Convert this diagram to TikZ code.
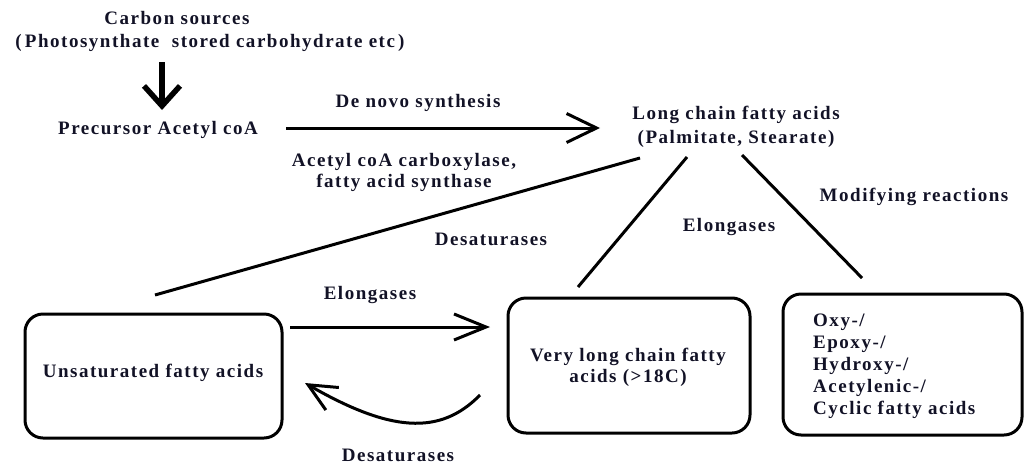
\documentclass[tikz,border=0pt]{standalone}
\usepackage{fontspec}
\newfontfamily\lblfont{Liberation Serif}[LetterSpace=8]
\usetikzlibrary{arrows.meta}
\definecolor{ink}{RGB}{18,18,38}
\begin{document}
\begin{tikzpicture}[x=1pt,y=-1pt,
  lbl/.style={font=\lblfont\bfseries\fontsize{19}{22}\selectfont, text=ink, inner sep=0pt},
  conn/.style={line width=3pt, draw=black},
  roundbox/.style={draw=black, line width=3pt, rounded corners=18pt, inner sep=0pt}]
\useasboundingbox (0,0) rectangle (1024,466);

% text nodes
\node[lbl] (cs) at (177,18) {Carbon sources};
\node[lbl] (ps) at (210,43) {(\,Photosynthate\ \ stored carbohydrate etc\,)};
\node[lbl] (pre) at (158,130) {Precursor Acetyl coA};
\node[lbl] (dn) at (418,103) {De novo synthesis};
\node[lbl, align=center, font=\lblfont\bfseries\fontsize{19}{21}\selectfont] (enz) at (404,172) {Acetyl coA carboxylase,\\fatty acid synthase};
\node[lbl, align=center, font=\lblfont\bfseries\fontsize{19}{24}\selectfont] (lcfa) at (736,127) {Long chain fatty acids\\(Palmitate, Stearate)};
\node[lbl] (des1) at (491,239) {Desaturases};
\node[lbl] (elo1) at (729,227) {Elongases};
\node[lbl] (modr) at (914,197) {Modifying reactions};
\node[lbl] (elo2) at (370,295) {Elongases};
\node[lbl] (des2) at (398,455) {Desaturases};

% boxes
\node[roundbox, minimum width=257pt, minimum height=124pt] (ufa) at (153.5,376) {};
\node[lbl] (ufat) at (153,373) {Unsaturated fatty acids};
\node[roundbox, minimum width=242pt, minimum height=135pt] (vl) at (629,365.5) {};
\node[lbl, align=center, font=\lblfont\bfseries\fontsize{19}{21}\selectfont] (vlt) at (628,367.5) {Very long chain fatty\\acids (>18C)};
\node[roundbox, minimum width=239pt, minimum height=141pt] (mod) at (902.5,364.5) {};
\node[lbl, align=left, anchor=west] (modt) at (813,366) {Oxy-/\\Epoxy-/\\Hydroxy-/\\Acetylenic-/\\Cyclic fatty acids};

% connector end points
\coordinate (a1s) at (162,62);
\coordinate (a1e) at (162,110);
\coordinate (a2s) at (286,128);
\coordinate (a2e) at (600,128);
\coordinate (l1s) at (640,158);
\coordinate (l1e) at (155,295);
\coordinate (l2s) at (687,157);
\coordinate (l2e) at (578,287);
\coordinate (l3s) at (742,155);
\coordinate (l3e) at (862,278);
\coordinate (e2s) at (290,327);
\coordinate (e2e) at (490,327);
\coordinate (d2s) at (480,395);
\coordinate (d2e) at (305,383);

% connectors
\draw[line width=5.5pt, -{Straight Barb[length=20pt,width=36pt]}] (a1s) -- (a1e);
\draw[conn, -{Straight Barb[length=30pt,width=29pt]}] (a2s) -- (a2e);
\draw[conn] (l1s) -- (l1e);
\draw[conn] (l2s) -- (l2e);
\draw[conn] (l3s) -- (l3e);
\draw[conn, -{Straight Barb[length=32pt,width=26pt]}] (e2s) -- (e2e);
\draw[conn, -{Straight Barb[length=28pt,width=26pt]}] (d2s) .. controls (440,436) and (390,432) .. (d2e);
\end{tikzpicture}
\end{document}
